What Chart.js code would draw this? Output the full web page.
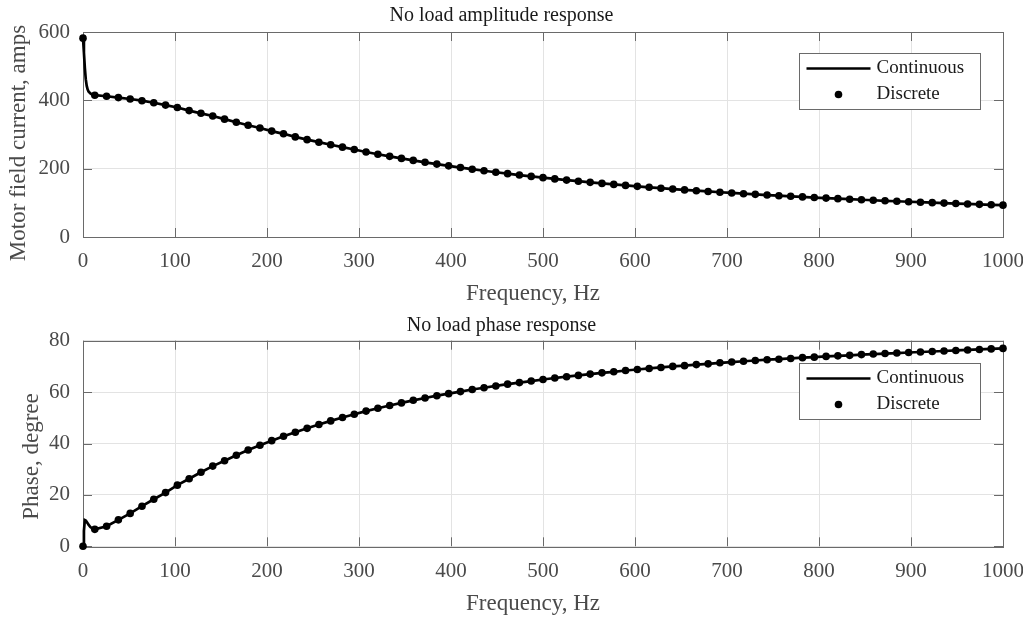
<!DOCTYPE html>
<html><head><meta charset="utf-8">
<script src="https://cdn.jsdelivr.net/npm/chart.js@4.4.0/dist/chart.umd.min.js"></script>
<style>html,body{margin:0;padding:0;background:#fff;} canvas{position:absolute;left:0;}</style>
</head><body>
<canvas id="c1" width="1023" height="308" style="top:0;width:1023px;height:308px"></canvas>
<canvas id="c2" width="1023" height="309" style="top:308px;width:1023px;height:309px"></canvas>
<script>
const freqHz = [0,12.82,25.64,38.46,51.28,64.10,76.92,89.74,102.56,115.38,
  128.21,141.03,153.85,166.67,179.49,192.31,205.13,217.95,230.77,243.59,
  256.41,269.23,282.05,294.87,307.69,320.51,333.33,346.15,358.97,371.79,
  384.62,397.44,410.26,423.08,435.90,448.72,461.54,474.36,487.18,500.00,
  512.82,525.64,538.46,551.28,564.10,576.92,589.74,602.56,615.38,628.21,
  641.03,653.85,666.67,679.49,692.31,705.13,717.95,730.77,743.59,756.41,
  769.23,782.05,794.87,807.69,820.51,833.33,846.15,858.97,871.79,884.62,
  897.44,910.26,923.08,935.90,948.72,961.54,974.36,987.18,1000];
const ampDiscrete = [582,415,412,408,404,399,393,386,379,370,
  362,354,345,336,327,319,310,302,293,285,
  277.5,270,263,256,248.8,242.3,236,230,224.2,218.6,
  213.3,208.2,203.2,198.5,193.9,189.6,185.4,181.3,177.4,173.7,
  170.1,166.6,163.3,160,156.9,153.9,151,148.2,145.5,142.9,
  140.4,137.9,135.5,133.3,131,128.9,126.8,124.8,122.8,120.9,
  119.1,117.3,115.5,113.8,112.2,110.6,109,107.5,106,104.6,
  103.2,101.8,100.5,99.2,97.9,96.7,95.5,94.3,93.2];
const phaseDiscrete = [0,6.6,7.8,10.3,12.8,15.6,18.3,20.9,23.8,26.3,
  28.8,31.2,33.3,35.4,37.5,39.3,41.1,42.8,44.4,45.9,
  47.4,48.8,50.1,51.4,52.6,53.7,54.8,55.8,56.8,57.7,
  58.6,59.4,60.2,61.0,61.7,62.4,63.1,63.7,64.3,64.9,
  65.5,66.0,66.5,67.0,67.5,67.9,68.4,68.8,69.2,69.6,
  70.0,70.3,70.7,71.0,71.4,71.7,72.0,72.3,72.6,72.8,
  73.1,73.4,73.6,73.9,74.1,74.3,74.6,74.8,75.0,75.2,
  75.4,75.6,75.8,76.0,76.2,76.4,76.6,76.8,77.0];
// start-up transient of the continuous response (before first discrete sample)
const contHeadFreq = [0,1,2,3,4,5,6,8,10];
const contHeadAmp = [582,540,495,462,443,432,426,420,417];
const contHeadPhase = [0,6,10.2,10,9.5,9,8.4,7.5,7];
const xTicks = [0,100,200,300,400,500,600,700,800,900,1000];
const ampTicks = [0,200,400,600];
const phaseTicks = [0,20,40,60,80];
const seriesNames = ['Continuous','Discrete'];
const chartTitles = ['No load amplitude response','No load phase response'];
const xTitle = 'Frequency, Hz';
const yTitles = ['Motor field current, amps','Phase, degree'];

const FONT = "'Liberation Serif','Times New Roman',serif";
const AXIS_COL = '#6a6a6a';
const TEXT_COL = '#4a4a4a';

const framePlugin = {
  id: 'frame',
  beforeDatasetsDraw(chart) {
    const {ctx, chartArea: a, scales: {x, y}} = chart;
    const tl = 9;
    ctx.save();
    ctx.strokeStyle = AXIS_COL; ctx.lineWidth = 1;
    ctx.beginPath();
    x.ticks.forEach(t => {
      const px = Math.round(x.getPixelForValue(t.value)) + 0.5;
      ctx.moveTo(px, a.bottom); ctx.lineTo(px, a.bottom - tl);
      ctx.moveTo(px, a.top); ctx.lineTo(px, a.top + tl);
    });
    y.ticks.forEach(t => {
      const py = Math.round(y.getPixelForValue(t.value)) + 0.5;
      ctx.moveTo(a.left, py); ctx.lineTo(a.left + tl, py);
      ctx.moveTo(a.right, py); ctx.lineTo(a.right - tl, py);
    });
    ctx.stroke();
    ctx.strokeRect(Math.round(a.left) + 0.5, Math.round(a.top) + 0.5,
      Math.round(a.right - a.left), Math.round(a.bottom - a.top));
    ctx.restore();
  }
};

const legendPlugin = {
  id: 'boxLegend',
  afterDatasetsDraw(chart, args, opts) {
    const {ctx, chartArea: a} = chart;
    const bx = Math.round(a.right - 204) + 0.5, by = Math.round(a.top + opts.dy) + 0.5;
    const bw = 181, bh = 56;
    ctx.save();
    ctx.fillStyle = '#fff'; ctx.fillRect(bx, by, bw, bh);
    ctx.strokeStyle = AXIS_COL; ctx.lineWidth = 1; ctx.strokeRect(bx, by, bw, bh);
    ctx.strokeStyle = '#000'; ctx.lineWidth = 2.7;
    ctx.beginPath(); ctx.moveTo(bx + 7, by + 15); ctx.lineTo(bx + 71, by + 15); ctx.stroke();
    ctx.fillStyle = '#000';
    ctx.beginPath(); ctx.arc(bx + 39, by + 41, 3.8, 0, Math.PI * 2); ctx.fill();
    ctx.fillStyle = '#1a1a1a';
    ctx.font = "19px " + FONT;
    ctx.textBaseline = 'middle'; ctx.textAlign = 'left';
    ctx.fillText(seriesNames[0], bx + 77, by + 15);
    ctx.fillText(seriesNames[1], bx + 77, by + 41);
    ctx.restore();
  }
};

const axisTitlePlugin = {
  id: 'axisTitles',
  afterDraw(chart, args, o) {
    const ctx = chart.ctx;
    ctx.save();
    ctx.font = "23px " + FONT;
    ctx.fillStyle = TEXT_COL;
    ctx.textAlign = 'center'; ctx.textBaseline = 'middle';
    ctx.fillText(xTitle, o.xCx, o.xCy);
    ctx.translate(o.yCx, o.yCy);
    ctx.rotate(-Math.PI / 2);
    ctx.fillText(o.yText, 0, 0);
    ctx.restore();
  }
};

function buildChart(id, cfg) {
  const contPts = contHeadFreq.map((f, i) => ({x: f, y: cfg.head[i]}))
    .concat(freqHz.slice(1).map((f, i) => ({x: f, y: cfg.values[i + 1]})));
  const discPts = freqHz.map((f, i) => ({x: f, y: cfg.values[i]}));
  return new Chart(document.getElementById(id), {
    type: 'scatter',
    data: {
      datasets: [
        {label: seriesNames[0], data: contPts, showLine: true, borderColor: '#000',
          borderWidth: 2.7, pointRadius: 0, tension: 0, clip: false},
        {label: seriesNames[1], data: discPts, showLine: false, backgroundColor: '#000',
          borderColor: '#000', borderWidth: 0, pointRadius: 3.8, clip: false}
      ]
    },
    options: {
      responsive: false, animation: false, devicePixelRatio: 1, events: [],
      layout: {padding: {left: 0, right: 20, top: 0, bottom: 0}},
      plugins: {
        legend: {display: false}, tooltip: {enabled: false},
        title: {display: true, text: cfg.title, color: '#1a1a1a',
          font: {family: FONT, size: 20, weight: 'normal'}, padding: cfg.titlePad},
        boxLegend: {dy: cfg.legendDy},
        axisTitles: cfg.axisTitles
      },
      scales: {
        x: {
          type: 'linear', min: 0, max: 1000,
          afterBuildTicks: s => { s.ticks = xTicks.map(v => ({value: v})); },
          afterFit: s => { s.height = cfg.xH; s.paddingLeft = 0; s.paddingRight = 0; },
          grid: {color: '#e3e3e3', lineWidth: 1, drawTicks: false},
          border: {display: false},
          ticks: {color: TEXT_COL, font: {family: FONT, size: 21}, padding: cfg.xTickPad, maxRotation: 0,
            callback: v => String(v)},
          title: {display: false}
        },
        y: {
          type: 'linear', min: cfg.yTicks[0], max: cfg.yTicks[cfg.yTicks.length - 1],
          afterBuildTicks: s => { s.ticks = cfg.yTicks.map(v => ({value: v})); },
          afterFit: s => { s.width = 83; s.paddingTop = 0; s.paddingBottom = 0; },
          grid: {color: '#e3e3e3', lineWidth: 1, drawTicks: false},
          border: {display: false},
          ticks: {color: TEXT_COL, font: {family: FONT, size: 21}, padding: 13,
            callback: v => String(v)},
          title: {display: false}
        }
      }
    },
    plugins: [framePlugin, legendPlugin, axisTitlePlugin]
  });
}

buildChart('c1', {
  title: chartTitles[0], values: ampDiscrete, head: contHeadAmp, yTicks: ampTicks,
  titlePad: {top: 4, bottom: 4}, xH: 71, xTickPad: 11.5, legendDy: 21,
  axisTitles: {xCx: 533, xCy: 294, yCx: 19, yCy: 143, yText: yTitles[0]}
});
buildChart('c2', {
  title: chartTitles[1], values: phaseDiscrete, head: contHeadPhase, yTicks: phaseTicks,
  titlePad: {top: 6, bottom: 2.7}, xH: 70.7, xTickPad: 13, legendDy: 22,
  axisTitles: {xCx: 533, xCy: 295.5, yCx: 32, yCy: 148.5, yText: yTitles[1]}
});
</script>
</body></html>
